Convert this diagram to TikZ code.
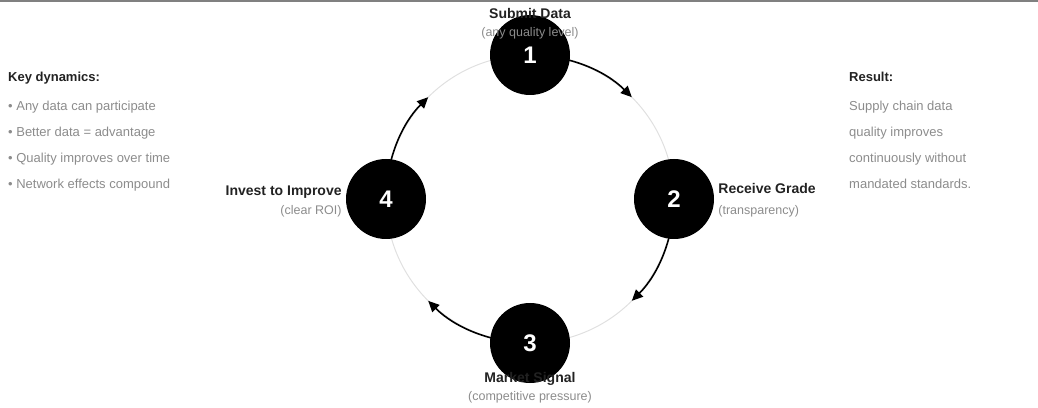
\documentclass[tikz,border=0pt]{standalone}
\usepackage{fontspec}
\setmainfont{Liberation Sans}
\usetikzlibrary{arrows.meta,positioning,backgrounds}

\definecolor{ink}{HTML}{222222}
\definecolor{soft}{HTML}{8C8C8C}
\definecolor{ring}{HTML}{E0E0E0}
\definecolor{rule}{HTML}{808080}

\begin{document}
\begin{tikzpicture}[
    x=1pt, y=1pt,
    stepdot/.style={circle, fill=black, minimum size=80pt, inner sep=0pt, text=white, font=\bfseries\fontsize{24}{28}\selectfont},
    title/.style={font=\bfseries\fontsize{14}{16}\selectfont, text=ink, inner sep=0pt},
    sub/.style={font=\fontsize{12.5}{14}\selectfont, text=soft, inner sep=0pt},
    head/.style={font=\bfseries\fontsize{13}{15}\selectfont, text=ink, inner sep=0pt, anchor=base west},
    item/.style={font=\fontsize{13}{15}\selectfont, text=soft, inner sep=0pt, anchor=base west},
    flow/.style={line width=1.6pt, -{Triangle[length=11pt,width=10pt]}}
]
\useasboundingbox (0,0) rectangle (1038,407);
\draw[rule, line width=2pt] (0,406) -- (1038,406);

% the cycle
\coordinate (hub) at (530,208);
\node[stepdot] (n1) at ([shift={(90:144)}]hub) {1};
\node[stepdot] (n2) at ([shift={(0:144)}]hub) {2};
\node[stepdot] (n3) at ([shift={(270:144)}]hub) {3};
\node[stepdot] (n4) at ([shift={(180:144)}]hub) {4};

\begin{scope}[on background layer]
\draw[ring, line width=1pt] (hub) circle[radius=144];
\draw[flow] (n1.center) arc[start angle=90, end angle=45, radius=144];
\draw[flow] (n2.center) arc[start angle=0, end angle=-45, radius=144];
\draw[flow] (n3.center) arc[start angle=270, end angle=225, radius=144];
\draw[flow] (n4.center) arc[start angle=180, end angle=135, radius=144];
\end{scope}

% step labels
\node[title, anchor=base] (t1) at ([yshift=-4pt]n1.north) {Submit Data};
\node[sub, anchor=base] (s1) at ([yshift=-18pt]t1.base) {(any quality level)};
\node[title, anchor=base west] (t2) at ([xshift=4pt,yshift=5pt]n2.east) {Receive Grade};
\node[sub, anchor=base west] (s2) at ([yshift=-21pt]t2.base west) {(transparency)};
\node[title, anchor=base] (t3) at ([yshift=1pt]n3.south) {Market Signal};
\node[sub, anchor=base] (s3) at ([yshift=-18pt]t3.base) {(competitive pressure)};
\node[title, anchor=base east] (t4) at ([xshift=-4pt,yshift=3pt]n4.west) {Invest to Improve};
\node[sub, anchor=base east] (s4) at ([yshift=-19pt]t4.base east) {(clear ROI)};

% side notes
\node[head] (kd) at (8,325) {Key dynamics:};
\node[item] (k1) at ([yshift=-29pt]kd.base west) {• Any data can participate};
\node[item] (k2) at ([yshift=-26pt]k1.base west) {• Better data = advantage};
\node[item] (k3) at ([yshift=-26pt]k2.base west) {• Quality improves over time};
\node[item] (k4) at ([yshift=-26pt]k3.base west) {• Network effects compound};

\node[head] (rs) at (849,325) {Result:};
\node[item] (r1) at ([yshift=-29pt]rs.base west) {Supply chain data};
\node[item] (r2) at ([yshift=-26pt]r1.base west) {quality improves};
\node[item] (r3) at ([yshift=-26pt]r2.base west) {continuously without};
\node[item] (r4) at ([yshift=-26pt]r3.base west) {mandated standards.};
\end{tikzpicture}
\end{document}
